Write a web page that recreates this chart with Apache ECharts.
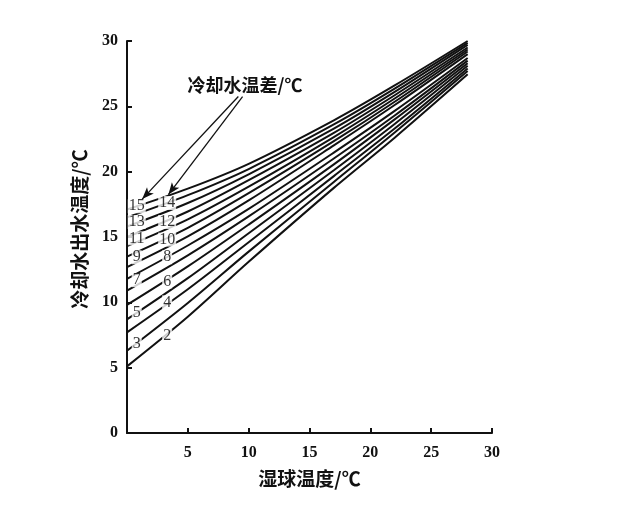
<!DOCTYPE html>
<html>
<head>
<meta charset="utf-8">
<style>html,body{margin:0;padding:0;background:#fff;}#c{width:640px;height:512px;}</style>
<script src="https://cdn.jsdelivr.net/npm/echarts@6/dist/echarts.min.js"></script>
</head>
<body>
<div id="c"></div>
<script>
// Cooling water temperature difference (℃) for each curve
const tempDiffs = [2, 3, 4, 5, 6, 7, 8, 9, 10, 11, 12, 13, 14, 15];
// Wet-bulb temperatures where the curves were read
const wetBulbPoints = [0, 5, 10, 17, 22, 28];
// Outlet water temperature read at each wet-bulb point (one value per curve, in tempDiffs order)
const outletAt0  = [5.1, 6.3, 7.7, 8.7, 9.8, 10.9, 11.8, 12.7, 13.5, 14.3, 15.0, 15.8, 16.5, 17.1];
const outletAt5  = [8.9, 9.95, 11.0, 11.85, 12.75, 13.6, 14.35, 15.05, 15.7, 16.35, 16.95, 17.6, 18.2, 18.7];
const outletAt10 = [13.1, 13.88, 14.6, 15.29, 15.95, 16.58, 17.15, 17.8, 18.35, 18.85, 19.35, 19.8, 20.2, 20.6];
const outletAt17 = [18.76, 19.21, 19.66, 20.11, 20.56, 21.01, 21.46, 22.01, 22.33, 22.65, 22.97, 23.29, 23.61, 23.93];
const outletAt22 = [22.6, 23.0, 23.3, 23.65, 24.0, 24.3, 24.65, 25.1, 25.35, 25.6, 25.85, 26.1, 26.35, 26.6];
const outletAt28 = [27.45, 27.7, 27.9, 28.1, 28.3, 28.5, 28.7, 29.0, 29.2, 29.35, 29.5, 29.7, 29.85, 30.0];
// Curve label anchors (data coordinates)
const labelWetBulb = [3.3, 0.8, 3.3, 0.8, 3.3, 0.8, 3.3, 0.8, 3.3, 0.8, 3.3, 0.8, 3.3, 0.8];
const labelOutlet  = [7.45, 6.85, 10.0, 9.2, 11.6, 11.7, 13.45, 13.45, 14.8, 14.9, 16.15, 16.15, 17.6, 17.35];
// Axis ticks
const xTicks = [0, 5, 10, 15, 20, 25, 30];
const yTicks = [0, 5, 10, 15, 20, 25, 30];
// Annotation
const noteText = '冷却水温差/℃';
const notePos = [9.7, 26.6];
const arrowFrom = [[9.15, 25.75], [9.5, 25.75]];
const arrowTo = [[1.25, 17.9], [3.4, 18.25]];

const columns = [outletAt0, outletAt5, outletAt10, outletAt17, outletAt22, outletAt28];
const serif = 'Liberation Serif';
const cjk = 'Noto Sans CJK SC';

const series = tempDiffs.map((d, i) => ({
  type: 'line',
  name: String(d),
  data: wetBulbPoints.map((x, j) => [x, columns[j][i]]),
  smooth: 0.3,
  showSymbol: false,
  symbol: 'none',
  lineStyle: { color: '#111', width: 2 },
  z: 2,
  silent: true
}));

series.push({
  type: 'scatter',
  symbolSize: 0,
  z: 10,
  silent: true,
  data: tempDiffs.map((d, i) => ({ value: [labelWetBulb[i], labelOutlet[i]], name: String(d) })),
  label: {
    show: true,
    position: 'inside',
    formatter: p => p.name,
    fontFamily: serif,
    fontSize: 16,
    color: '#000',
    backgroundColor: '#fff',
    padding: [0, 1, 0, 1],
    lineHeight: 14
  },
  markLine: {
    silent: true,
    symbol: ['none', 'arrow'],
    symbolSize: [7, 12],
    label: { show: false },
    lineStyle: { color: '#111', width: 1.3, type: 'solid' },
    data: arrowFrom.map((f, k) => [{ coord: f }, { coord: arrowTo[k] }])
  },
  markPoint: {
    silent: true,
    symbol: 'circle',
    symbolSize: 0,
    data: [{ coord: notePos, value: noteText }],
    label: {
      show: true,
      position: 'inside',
      formatter: noteText,
      fontFamily: cjk,
      fontWeight: 'bold',
      fontSize: 18,
      color: '#111'
    }
  }
});

const chart = echarts.init(document.getElementById('c'));
chart.setOption({
  animation: false,
  backgroundColor: '#fff',
  grid: { left: 127, right: 148, top: 41, bottom: 79, containLabel: false },
  xAxis: {
    type: 'value',
    min: xTicks[0], max: xTicks[xTicks.length - 1], interval: 5,
    name: '湿球温度/℃',
    nameLocation: 'middle',
    nameGap: 36,
    nameTextStyle: { fontFamily: cjk, fontWeight: 'bold', fontSize: 19, color: '#111' },
    axisLine: { show: true, lineStyle: { color: '#111', width: 2 } },
    axisTick: { show: true, inside: true, length: 5, lineStyle: { color: '#111', width: 2 } },
    axisLabel: {
      margin: 12, fontFamily: serif, fontWeight: 'bold', fontSize: 16, color: '#111',
      formatter: v => (v === 0 ? '' : String(v))
    },
    splitLine: { show: false }
  },
  yAxis: {
    type: 'value',
    min: yTicks[0], max: yTicks[yTicks.length - 1], interval: 5,
    name: '冷却水出水温度/℃',
    nameLocation: 'middle',
    nameRotate: 90,
    nameGap: 38,
    nameTextStyle: { fontFamily: cjk, fontWeight: 'bold', fontSize: 19, color: '#111', padding: [0, 0, 0, 16] },
    axisLine: { show: true, lineStyle: { color: '#111', width: 2 } },
    axisTick: { show: true, inside: true, length: 5, lineStyle: { color: '#111', width: 2 } },
    axisLabel: { margin: 9, fontFamily: serif, fontWeight: 'bold', fontSize: 16, color: '#111' },
    splitLine: { show: false }
  },
  series: series
});
</script>
</body>
</html>
